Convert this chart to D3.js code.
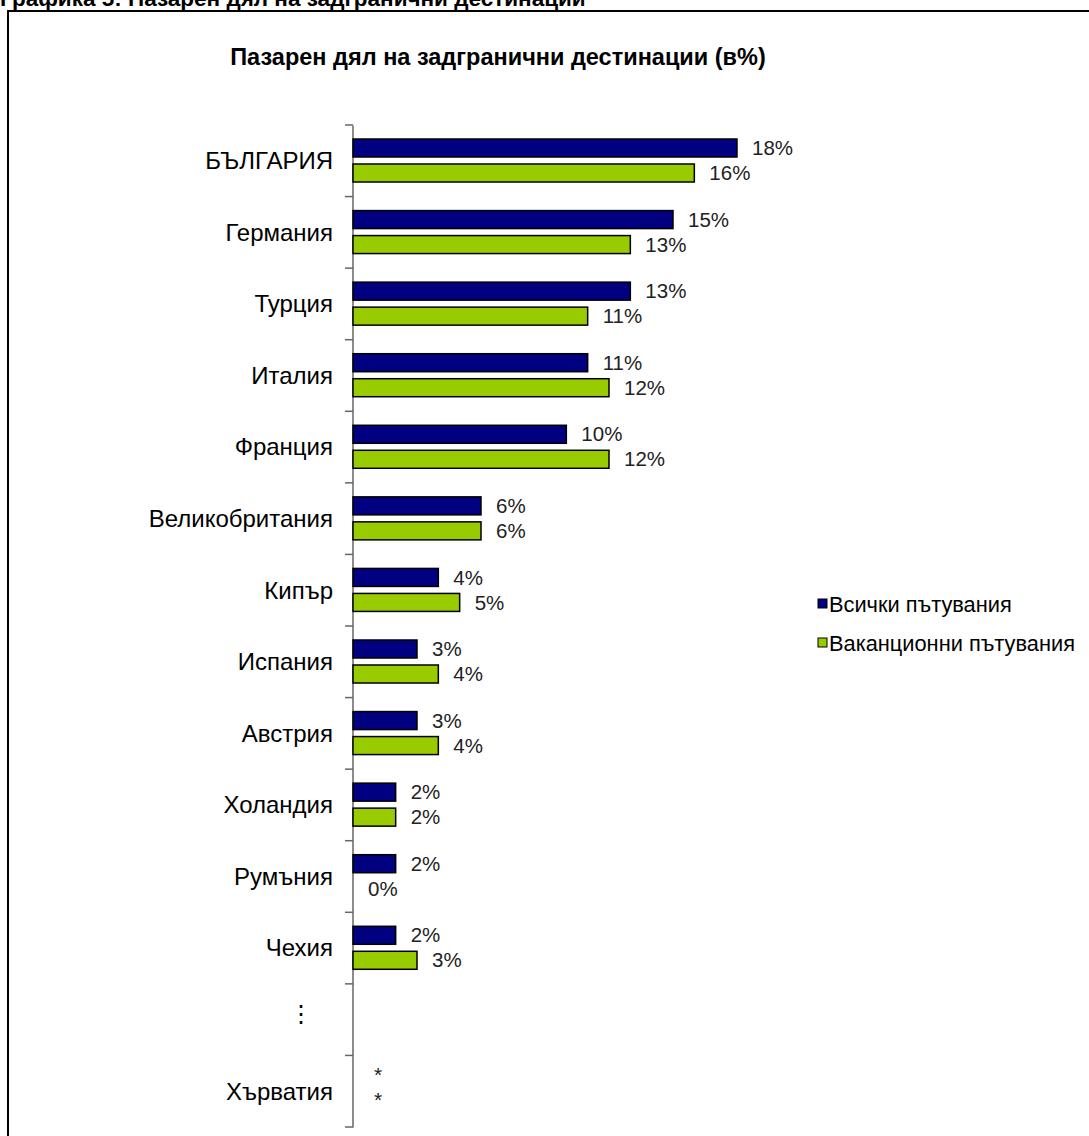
<!DOCTYPE html>
<html><head><meta charset="utf-8">
<script src="https://cdn.jsdelivr.net/npm/d3@7/dist/d3.min.js"></script>
<style>html,body{margin:0;padding:0;background:#fff;overflow:hidden}</style>
</head><body>
<svg id="chart" width="1089" height="1136"></svg>
<script>
const categories = ["БЪЛГАРИЯ","Германия","Турция","Италия","Франция","Великобритания","Кипър","Испания","Австрия","Холандия","Румъния","Чехия","⋮","Хърватия"];
const seriesNames = ["Всички пътувания","Ваканционни пътувания"];
const allTrips =      [18,15,13,11,10,6,4,3,3,2,2,2,null,"*"];
const holidayTrips =  [16,13,11,12,12,6,5,4,4,2,0,3,null,"*"];
const colors = ["#000080","#99cc00"];
const header = "Графика 5: Пазарен дял на задгранични дестинации";
const title = "Пазарен дял на задгранични дестинации (в%)";

const FONT = "Liberation Sans, Arial, sans-serif";
const svg = d3.select("#chart");
svg.append("rect").attr("width",1089).attr("height",1136).attr("fill","#fff");

svg.append("text").attr("x",0).attr("y",6)
  .attr("font-family",FONT).attr("font-weight","bold")
  .attr("font-size",22.5).text(header);

svg.append("rect").attr("x",8).attr("y",11).attr("width",1200).attr("height",1200)
  .attr("fill","none").attr("stroke","#000").attr("stroke-width",2);

svg.append("text").attr("x",498).attr("y",65).attr("text-anchor","middle")
  .attr("font-family",FONT).attr("font-weight","bold")
  .attr("font-size",23.5).text(title);

const x = d3.scaleLinear().domain([0,18]).range([353,737]);
const y = d3.scaleBand().domain(categories).range([125,1127]);
const sub = d3.scaleBand().domain(seriesNames).range([14,57]).paddingInner(0.28);

const data = categories.map((c,i)=>({cat:c, vals:[allTrips[i], holidayTrips[i]]}));

// axis
const axis = d3.axisLeft(y).tickSize(0).tickFormat("");
const ag = svg.append("g").attr("transform","translate(352.5,0)").call(axis);
ag.select(".domain").attr("stroke","#666").attr("stroke-width",1.5);
const bounds = categories.map(c=>y(c)).concat([y.range()[1]]);
svg.selectAll(".tk").data(bounds).join("line")
  .attr("x1",345).attr("x2",353).attr("y1",d=>d).attr("y2",d=>d)
  .attr("stroke","#666").attr("stroke-width",1.5);

// category labels
svg.selectAll(".cat").data(categories).join("text")
  .attr("x",c=> c==="⋮" ? 301 : 333)
  .attr("y",c=>y(c)+y.bandwidth()/2 + (c==="⋮" ? -6 : 0))
  .attr("dy","0.35em")
  .attr("text-anchor",c=> c==="⋮" ? "middle" : "end")
  .attr("font-family",FONT)
  .attr("font-size",24).attr("fill","#000").text(c=>c);

// bars
const groups = svg.selectAll(".grp").data(data).join("g")
  .attr("transform",d=>`translate(0,${y(d.cat)})`);
groups.each(function(d){
  const g = d3.select(this);
  d.vals.forEach((v,si)=>{
    const yy = sub(seriesNames[si]);
    if (typeof v === "number") {
      if (v>0) {
        g.append("rect").attr("x",x(0)).attr("y",yy)
          .attr("width",x(v)-x(0)).attr("height",sub.bandwidth())
          .attr("fill",colors[si]).attr("stroke","#000").attr("stroke-width",1.5);
      }
      g.append("text").attr("x",x(v)+15).attr("y",yy+sub.bandwidth()/2).attr("dy","0.35em")
        .attr("font-family",FONT).attr("font-size",20.5)
        .attr("fill","#222").text(v+"%");
    } else if (v === "*") {
      g.append("text").attr("x",x(0)+25).attr("y",yy+sub.bandwidth()/2).attr("dy","0.15em")
        .attr("text-anchor","middle")
        .attr("font-family",FONT).attr("font-size",21)
        .attr("fill","#222").text("*");
    }
  });
});

// legend
const lg = svg.append("g");
seriesNames.forEach((s,i)=>{
  const cy = 604 + i*39;
  lg.append("rect").attr("x",818).attr("y",cy-5).attr("width",9).attr("height",9)
    .attr("fill",colors[i]).attr("stroke","#000").attr("stroke-width",1);
  lg.append("text").attr("x",829).attr("y",cy).attr("dy","0.35em")
    .attr("font-family",FONT).attr("font-size",21.8)
    .attr("fill","#000").text(s);
});
</script>
</body></html>
